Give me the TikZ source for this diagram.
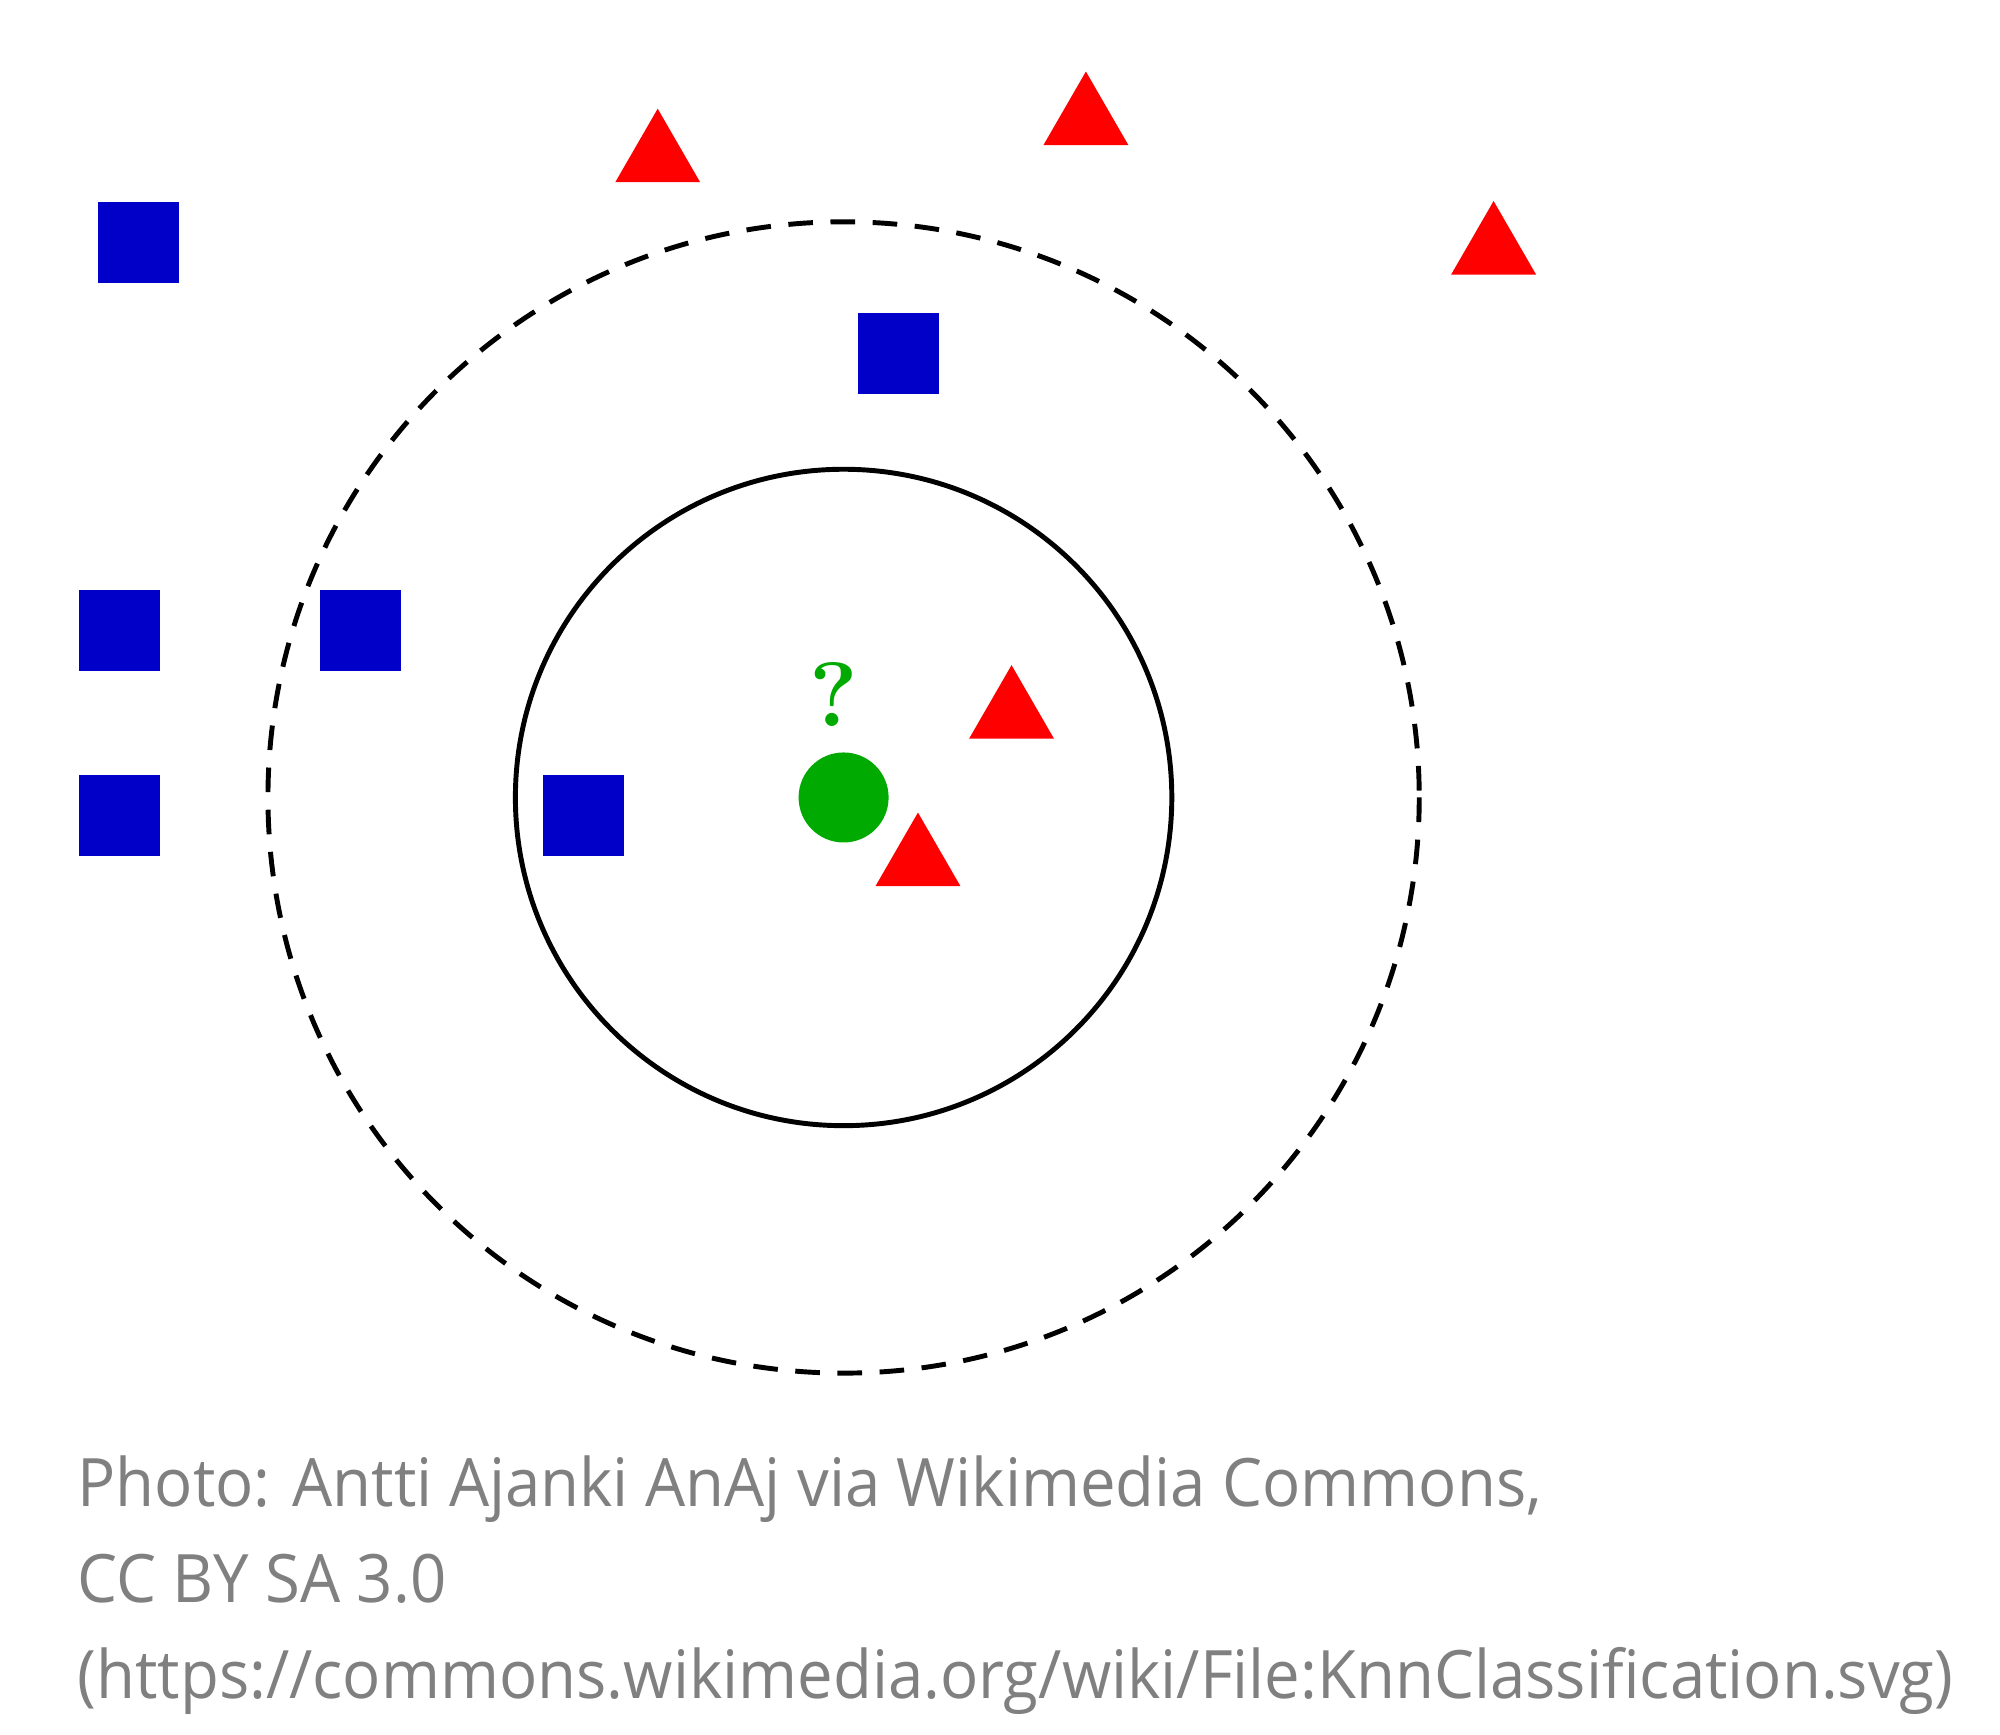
\documentclass[tikz,border=0pt]{standalone}
\usepackage{fontspec}
\setsansfont{Open Sans}
\usetikzlibrary{shapes.geometric}
\definecolor{sqblue}{RGB}{0,0,200}
\definecolor{trired}{RGB}{255,0,0}
\definecolor{dotgreen}{RGB}{0,170,0}
\definecolor{capgray}{RGB}{128,128,128}
\newcommand{\narrowcap}[1]{\scalebox{0.95}[1]{#1}}

\begin{document}
\begin{tikzpicture}[x=0.01282cm,y=-0.01282cm,
	sq/.style={fill=sqblue, minimum size=0.81cm, inner sep=0pt},
	tri/.style={regular polygon, regular polygon sides=3, fill=trired,
		minimum size=0.98cm, inner sep=0pt},
	captext/.style={anchor=base west, text=capgray, inner sep=0pt,
		font=\sffamily\fontsize{19}{23}\selectfont}
]
\useasboundingbox (0,0) rectangle (1560,1353);
% neighbourhoods
\node (c) at (658,622) {};
\draw[line width=1.4pt] (c.center) circle[radius=256];
\draw[line width=1.4pt, dash pattern=on 7pt off 5pt] (c.center) circle[radius=449];
% blue squares
\foreach \n/\x/\y in {s1/108/189, s2/701/276, s3/93/492, s4/281/492, s5/93/636, s6/455/636}
	\node[sq] (\n) at (\x,\y) {};
% red triangles
\foreach \n/\x/\y in {t1/513/123, t2/847/94, t3/1165/195, t4/789/557, t5/716/672}
	\node[tri] (\n) at (\x,\y) {};
% query point
\node[circle, fill=dotgreen, minimum size=0.9cm, inner sep=0pt] (q) at (c.center) {};
\node[text=dotgreen, font=\bfseries\fontsize{26}{30}\selectfont] (qm) at (650,542) {?};
% caption
\node[captext] (l1) at (60,1175) {\narrowcap{Photo: Antti Ajanki AnAj via Wikimedia Commons,}};
\node[captext] (l2) at (60,1250) {\narrowcap{CC BY SA 3.0}};
\node[captext] (l3) at (60,1325) {\narrowcap{(https://commons.wikimedia.org/wiki/File:KnnClassification.svg)}};
\end{tikzpicture}
\end{document}
